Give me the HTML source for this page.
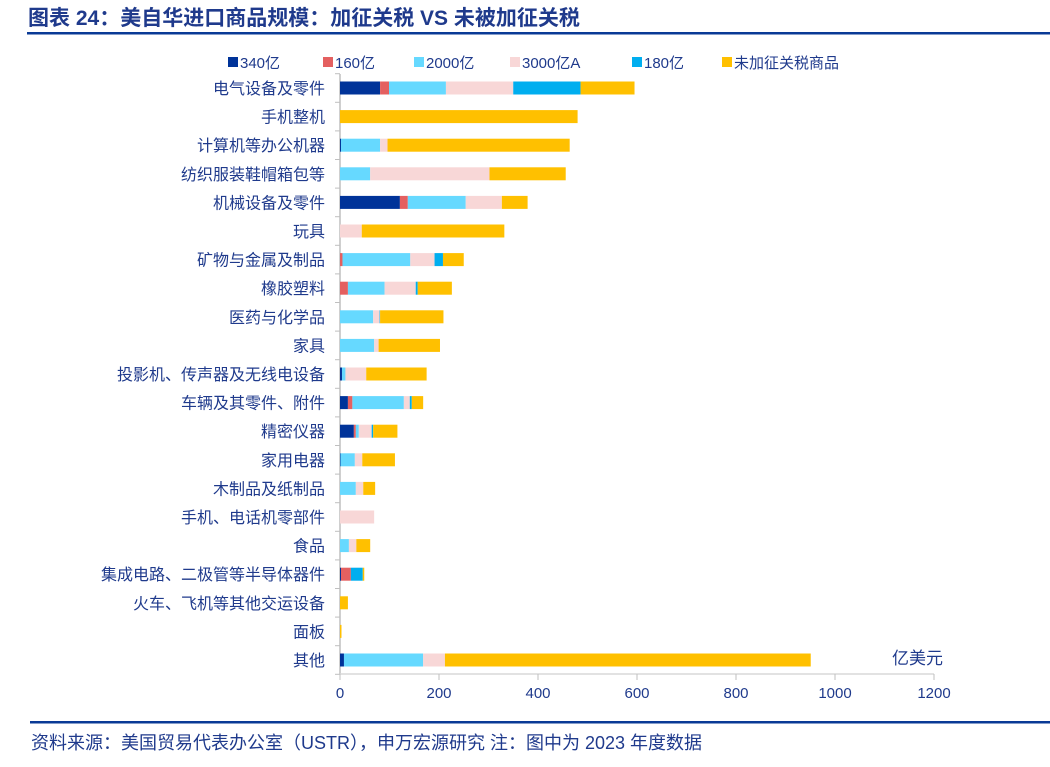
<!DOCTYPE html>
<html><head><meta charset="utf-8"><style>
body{margin:0;background:#fff;width:1050px;height:762px;overflow:hidden;font-family:"Liberation Sans","Noto Sans CJK SC",sans-serif;}
</style></head><body>
<svg width="1050" height="762" xmlns="http://www.w3.org/2000/svg" font-family="Liberation Sans, Noto Sans CJK SC, sans-serif">
<text x="28" y="25" font-size="21" font-weight="bold" fill="#1F3A8C">图表 24：美自华进口商品规模：加征关税 VS 未被加征关税</text>
<rect x="27" y="32" width="1023" height="2.5" fill="#0A3A96"/>
<g id="legend"></g>
<g id="axes"></g>
<g id="bars"></g>
<text x="892" y="664" font-size="17" fill="#1F3A8C">亿美元</text>
<rect x="30" y="721" width="1020" height="2.5" fill="#0A3A96"/>
<text x="31" y="749" font-size="18" fill="#1F3A8C">资料来源：美国贸易代表办公室（USTR），申万宏源研究  注：图中为 2023 年度数据</text>
</svg>
<script>
const categories=["电气设备及零件","手机整机","计算机等办公机器","纺织服装鞋帽箱包等","机械设备及零件","玩具","矿物与金属及制品","橡胶塑料","医药与化学品","家具","投影机、传声器及无线电设备","车辆及其零件、附件","精密仪器","家用电器","木制品及纸制品","手机、电话机零部件","食品","集成电路、二极管等半导体器件","火车、飞机等其他交运设备","面板","其他"];
const seriesNames=["340亿","160亿","2000亿","3000亿A","180亿","未加征关税商品"];
const s340=[81,0,2,0,121,0,0,0,0,0,4,16,28,1,0,0,0,2,0,0,8];
const s160=[18,0,0,0,16,0,5,16,0,0,0,9,4,0,0,0,0,20,0,0,0];
const s2000=[115,0,79,61,117,0,137,74,67,69,7,104,6,29,32,0,18,0,0,0,160];
const s3000=[136,0,15,241,73,44,49,63,13,9,42,12,26,15,15,69,15,0,0,0,44];
const s180=[136,0,0,0,0,0,17,4,1,0,0,4,3,0,0,0,0,24,0,0,0];
const sFree=[109,480,368,154,52,288,42,69,128,124,122,23,49,66,24,0,28,3,16,3,739];
const xTicks=[0,200,400,600,800,1000,1200];
const colors=["#003399","#E46060","#66D9FF","#F8D7D7","#00AEEF","#FFC000"];
const NS="http://www.w3.org/2000/svg";
const x0=340,xScale=594/1200,y0=88,step=28.6,bh=13;
const xs=v=>x0+v*xScale, ys=i=>y0+i*step;
function mk(tag,attrs,parent,txt){const e=document.createElementNS(NS,tag);for(const k in attrs)e.setAttribute(k,attrs[k]);if(txt!==undefined)e.textContent=txt;parent.appendChild(e);return e;}
const axes=document.getElementById('axes'),bars=document.getElementById('bars'),legend=document.getElementById('legend');
const ax=mk('line',{x1:x0,y1:74,x2:x0,y2:674,stroke:'#BFBFBF','stroke-width':1.5},axes);


const bx=mk('line',{x1:x0,y1:674,x2:xs(1200),y2:674,stroke:'#D9D9D9','stroke-width':1.5},axes);


xTicks.forEach(t=>{
 const tk=mk('line',{x1:xs(t),y1:674,x2:xs(t),y2:680,stroke:'#BFBFBF'},axes);
 
 
 const tl=mk('text',{x:xs(t),y:698,'font-size':15,fill:'#1F3A8C','text-anchor':'middle'},axes,String(t));
 
 
});
for(let i=0;i<=categories.length;i++){
 const t=mk('line',{x1:x0-5,y1:ys(i)-step/2,x2:x0,y2:ys(i)-step/2,stroke:'#BFBFBF'},axes);
 
 
}
const series=[s340,s160,s2000,s3000,s180,sFree];
categories.forEach((c,i)=>{
 const l=mk('text',{x:325,y:ys(i)+6,'font-size':16,fill:'#1F3A8C','text-anchor':'end'},axes,c);
 
 
 let acc=0;
 series.forEach((s,k)=>{
  const v=s[i];if(!v)return;
  const r=mk('rect',{x:xs(acc),y:ys(i)-bh/2,width:v*xScale,height:bh,fill:colors[k]},bars);
  
  
  acc+=v;
 });
});
const lx=[228,323,414,510,632,722];
seriesNames.forEach((n,k)=>{
 const g=mk('g',{},legend);
 
 
 mk('rect',{x:lx[k],y:57,width:10,height:10,fill:colors[k]},g);
 mk('text',{x:lx[k]+12,y:68,'font-size':15,fill:'#1F3A8C'},g,n);
});
</script>
</body></html>
